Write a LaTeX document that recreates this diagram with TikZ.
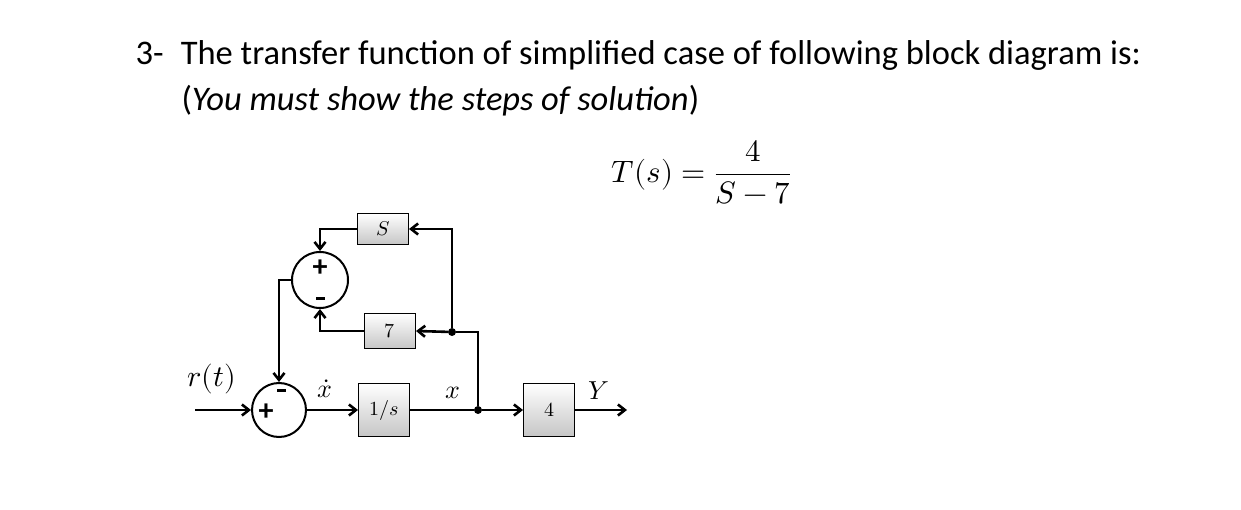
\documentclass[tikz,border=0pt]{standalone}
\usepackage{amsmath}
\usepackage{fontspec}
\usepackage{unicode-math}
\setmainfont{Carlito}
\setmathfont{Latin Modern Math}
\usetikzlibrary{arrows.meta}
\begin{document}
\begin{tikzpicture}[x=1pt,y=-1pt,
  blk/.style={draw,line width=1pt,top color=white,bottom color=gray!45,minimum width=51pt,inner sep=0pt,font=\fontsize{20}{20}\selectfont},
  sumc/.style={draw,circle,line width=2pt,minimum size=#1,inner sep=0pt},
  wire/.style={line width=2.6pt,-{Straight Barb[length=7pt,width=11pt]}},
  ln/.style={line width=2.6pt},
  dot/.style={circle,fill,inner sep=0pt,minimum size=8pt},
  sg/.style={font=\bfseries\fontsize{30}{30}\selectfont}]
\useasboundingbox (0,0) rectangle (1241,510);
\node[anchor=west,font=\fontsize{34.5}{34.5}\selectfont] (t1) at (132,55) {3-\enspace The transfer function of simplified case of following block diagram is:};
\node[anchor=west,font=\fontsize{34.5}{34.5}\selectfont] (t2) at (178,101) {(\textit{You must show the steps of solution})};
\node[anchor=east,font=\fontsize{31}{31}\selectfont] (eq) at (795,172) {$T(s)=\dfrac{4}{S-7}$};
\node[blk,minimum height=31pt] (S) at (383,229) {$S$};
\node[blk,minimum height=35pt] (B7) at (390,331) {$7$};
\node[blk,minimum height=53pt] (I) at (384,410) {$1/s$};
\node[blk,minimum height=53pt] (F) at (549,410) {$4$};
\node[sumc=56pt] (s1) at (320,280) {};
\node[sumc=54pt] (s2) at (279,410) {};
\node[sg] (p1) at (320,268) {+};
\node[sg] (p2) at (266,412) {+};
\fill (315.5,297) rectangle (324.5,300);
\fill (276.5,389) rectangle (285.5,392);
\node[dot] (j1) at (452,332) {};
\node[dot] (j2) at (478,410) {};
\coordinate (in) at (195,410);
\coordinate (out) at (627,410);
\draw[wire] (in) -- (s2.west);
\draw[wire] (s2.east) -- (I.west);
\draw[ln] (I.east) -- (j2);
\draw[wire] (j2) -- (F.west);
\draw[wire] (F.east) -- (out);
\draw[ln] (j2) -- (478,332) -- (j1);
\draw[wire] (j1) -- (B7.east);
\draw[wire] (j1) |- (S.east);
\draw[wire] (S.west) -| (s1.north);
\draw[wire] (B7.west) -| (s1.south);
\draw[wire] (s1.west) -| (s2.north);
\node[font=\fontsize{30}{30}\selectfont] (r) at (212,379) {$r(t)$};
\node[font=\fontsize{26}{26}\selectfont] (xd) at (325,389) {$\dot{x}$};
\node[font=\fontsize{26}{26}\selectfont] (x) at (453,393) {$x$};
\node[font=\fontsize{26}{26}\selectfont] (Y) at (599,391) {$Y$};
\end{tikzpicture}
\end{document}
